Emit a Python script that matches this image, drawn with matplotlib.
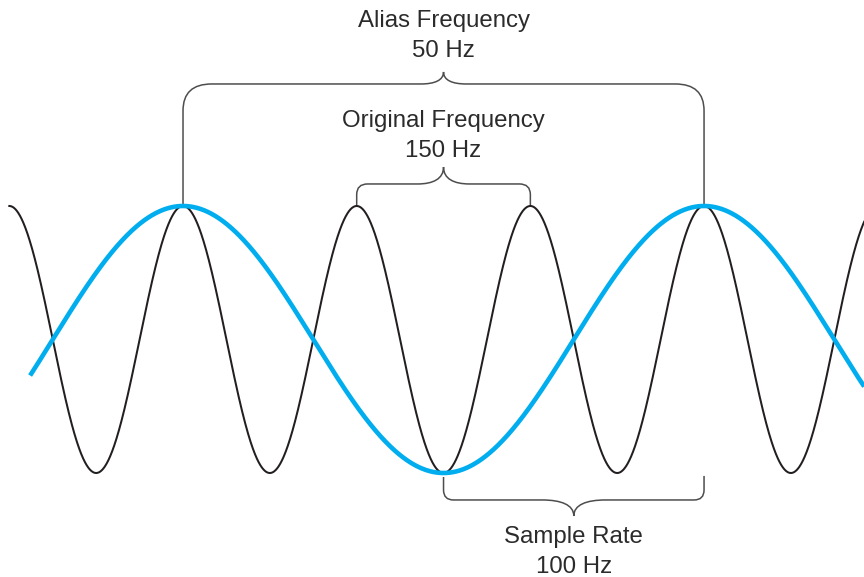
import numpy as np
import matplotlib.pyplot as plt
from matplotlib.path import Path
from matplotlib.patches import PathPatch

# signal parameters (Hz)
original_freq = 150
alias_freq = 50
sample_rate = 100

labels = ['Alias Frequency', 'Original Frequency', 'Sample Rate']
values = ['50 Hz', '150 Hz', '100 Hz']

plt.rcParams['font.family'] = ['Liberation Sans', 'DejaVu Sans']

fig = plt.figure(figsize=(8.64, 5.77), dpi=100)
ax = fig.add_axes([0, 0, 1, 1])
ax.set_xlim(-7.025, 26.14)   # time in ms
ax.set_ylim(-1.779, 2.543)   # amplitude
ax.axis('off')

# waves
t_orig = np.linspace(-1000 / original_freq, 26.2, 3000)
ax.plot(t_orig, np.cos(2 * np.pi * original_freq * t_orig / 1000),
        color='#231f20', lw=1.45, zorder=2)
t_alias = np.linspace(-5.87, 26.2, 3000)
ax.plot(t_alias, np.cos(2 * np.pi * alias_freq * t_alias / 1000),
        color='#00aeef', lw=3.3, solid_capstyle='butt', zorder=3)


def brace(x0, x1, yl0, yl1, yline, ytip, rx, ry, tw):
    xm = (x0 + x1) / 2
    s = np.sign(yline - yl0)
    h = ytip - yline
    verts = [(x0, yl0), (x0, yline - s * ry), (x0, yline), (x0 + rx, yline),
             (xm - tw, yline),
             (xm - 0.4 * tw, yline), (xm, yline + 0.3 * h), (xm, ytip),
             (xm, yline + 0.3 * h), (xm + 0.4 * tw, yline), (xm + tw, yline),
             (x1 - rx, yline), (x1, yline), (x1, yline - s * ry), (x1, yl1)]
    codes = [Path.MOVETO, Path.LINETO, Path.CURVE3, Path.CURVE3,
             Path.LINETO,
             Path.CURVE4, Path.CURVE4, Path.CURVE4,
             Path.CURVE4, Path.CURVE4, Path.CURVE4,
             Path.LINETO, Path.CURVE3, Path.CURVE3, Path.LINETO]
    ax.add_patch(PathPatch(Path(verts, codes), fc='none', ec='#4d4d4d',
                           lw=1.1, zorder=1, capstyle='butt'))


p_orig = 1000 / original_freq
p_alias = 1000 / alias_freq
p_samp = 1000 / sample_rate

brace(0, p_alias, 1.0, 1.0, 1.914, 2.004, 1.1, 0.2, 0.87)
brace(p_orig, 2 * p_orig, 1.0, 1.0, 1.165, 1.292, 0.42, 0.08, 1.0)
brace(p_samp, 2 * p_samp, -1.03, -1.022, -1.202, -1.322, 0.38, 0.075, 1.22)

txt = dict(ha='center', va='baseline', fontsize=17.3, color='#2b2b2b')
ax.text(p_alias / 2, 2.341, labels[0], **txt)
ax.text(p_alias / 2, 2.116, values[0], **txt)
ax.text(1.5 * p_orig, 1.592, labels[1], **txt)
ax.text(1.5 * p_orig, 1.367, values[1], **txt)
ax.text(1.5 * p_samp, -1.524, labels[2], **txt)
ax.text(1.5 * p_samp, -1.749, values[2], **txt)

plt.savefig('out.png', dpi=100)
plt.close()
